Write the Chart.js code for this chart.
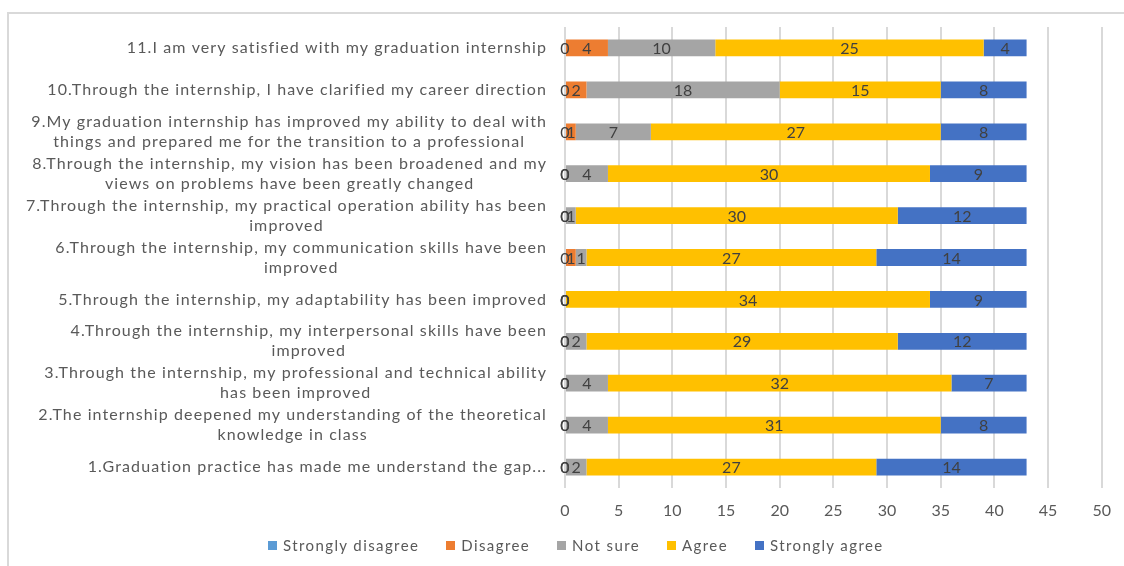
<!DOCTYPE html>
<html>
<head>
<meta charset="utf-8">
<script src="https://cdn.jsdelivr.net/npm/chart.js@4"></script>
<style>
  html, body { margin: 0; padding: 0; background: #fff; }
  #wrap { position: relative; width: 1124px; height: 566px; overflow: hidden; }
  #frame {
    position: absolute; left: 7px; top: 12px; width: 1200px; height: 600px;
    border-top: 2px solid #D9D9D9; border-left: 2px solid #D9D9D9;
  }
  #chart { position: absolute; left: 0; top: 0; }
  #legend {
    position: absolute; left: 268px; top: 535px; display: flex; align-items: center;
    font-family: Lato, sans-serif; font-size: 15px; letter-spacing: 1.4px; color: #595959;
    white-space: nowrap; line-height: 20px;
  }
  #legend span.item { display: flex; align-items: center; margin-right: 27px; }
  #legend span.box { width: 9px; height: 9px; margin-right: 6px; display: inline-block; }
</style>
</head>
<body>
<div id="wrap">
  <div id="frame"></div>
  <canvas id="chart" width="1124" height="566"></canvas>
  <div id="legend"></div>
</div>
<script>
// survey statements, top to bottom
const statements = [
  ['11.I am very satisfied with my graduation internship'],
  ['10.Through the internship, I have clarified my career direction'],
  ['9.My graduation internship has improved my ability to deal with', 'things and prepared me for the transition to a professional'],
  ['8.Through the internship, my vision has been broadened and my', 'views on problems have been greatly changed'],
  ['7.Through the internship, my practical operation ability has been', 'improved'],
  ['6.Through the internship, my communication skills have been', 'improved'],
  ['5.Through the internship, my adaptability has been improved'],
  ['4.Through the internship, my interpersonal skills have been', 'improved'],
  ['3.Through the internship, my professional and technical ability', 'has been improved'],
  ['2.The internship deepened my understanding of the theoretical', 'knowledge in class'],
  ['1.Graduation practice has made me understand the gap...']
];

const seriesNames = ['Strongly disagree', 'Disagree', 'Not sure', 'Agree', 'Strongly agree'];
const seriesColors = ['#5B9BD5', '#ED7D31', '#A5A5A5', '#FFC000', '#4472C4'];

const stronglyDisagree = [0, 0, 0, 0, 0, 0, 0, 0, 0, 0, 0];
const disagree         = [4, 2, 1, 0, 0, 1, 0, 0, 0, 0, 0];
const notSure          = [10, 18, 7, 4, 1, 1, 0, 2, 4, 4, 2];
const agree            = [25, 15, 27, 30, 30, 27, 34, 29, 32, 31, 27];
const stronglyAgree    = [4, 8, 8, 9, 12, 14, 9, 12, 7, 8, 14];

const xTicks = [0, 5, 10, 15, 20, 25, 30, 35, 40, 45, 50];

const seriesValues = [stronglyDisagree, disagree, notSure, agree, stronglyAgree];

const FONT = 'Lato, sans-serif';
const LABEL_RIGHT = 547;

// category labels: block right-aligned, wrapped lines centred inside the block
const categoryLabels = {
  id: 'categoryLabels',
  afterDraw(chart) {
    const ctx = chart.ctx;
    const y = chart.scales.y;
    ctx.save();
    ctx.font = '16px ' + FONT;
    ctx.letterSpacing = '1.1px';
    ctx.fillStyle = '#595959';
    ctx.textAlign = 'center';
    ctx.textBaseline = 'middle';
    const lh = 20;
    statements.forEach((lines, i) => {
      const w = Math.max(...lines.map(l => ctx.measureText(l).width));
      const cx = LABEL_RIGHT - w / 2;
      const cy = y.getPixelForTick(i);
      const top = cy - (lines.length - 1) * lh / 2;
      lines.forEach((l, k) => ctx.fillText(l, cx, top + k * lh));
    });
    ctx.restore();
  }
};

// value labels centred on each segment
const valueLabels = {
  id: 'valueLabels',
  afterDatasetsDraw(chart) {
    const ctx = chart.ctx;
    ctx.save();
    ctx.font = '16px ' + FONT;
    ctx.fillStyle = '#404040';
    ctx.textAlign = 'center';
    ctx.textBaseline = 'middle';
    chart.data.datasets.forEach((ds, di) => {
      chart.getDatasetMeta(di).data.forEach((bar, i) => {
        const left = Math.min(bar.x, bar.base);
        const right = Math.max(bar.x, bar.base);
        ctx.fillText(String(ds.data[i]), (left + right) / 2, bar.y + 1);
      });
    });
    ctx.restore();
  }
};

new Chart(document.getElementById('chart'), {
  type: 'bar',
  data: {
    labels: statements.map(s => s.join(' ')),
    datasets: seriesNames.map((name, i) => ({
      label: name,
      data: seriesValues[i],
      backgroundColor: seriesColors[i],
      borderWidth: 0,
      categoryPercentage: 1,
      barPercentage: 0.4
    }))
  },
  options: {
    indexAxis: 'y',
    responsive: false,
    animation: false,
    layout: { padding: { top: 27, right: 21, bottom: 38, left: 0 } },
    scales: {
      x: {
        stacked: true,
        min: 0,
        max: 50,
        afterBuildTicks: scale => { scale.ticks = xTicks.map(v => ({ value: v })); },
        afterFit: scale => { scale.height = 40; },
        grid: { color: '#D9D9D9', lineWidth: 2, drawTicks: false },
        border: { display: false },
        ticks: { padding: 13, color: '#595959', font: { family: FONT, size: 16 } }
      },
      y: {
        stacked: true,
        afterFit: scale => { scale.width = 565; },
        grid: { display: false, drawTicks: false },
        border: { display: false },
        ticks: { display: false }
      }
    },
    plugins: {
      legend: { display: false },
      tooltip: { enabled: false }
    }
  },
  plugins: [categoryLabels, valueLabels]
});

// legend
const legend = document.getElementById('legend');
seriesNames.forEach((name, i) => {
  const item = document.createElement('span');
  item.className = 'item';
  const box = document.createElement('span');
  box.className = 'box';
  box.style.background = seriesColors[i];
  item.appendChild(box);
  item.appendChild(document.createTextNode(name));
  legend.appendChild(item);
});
</script>
</body>
</html>
